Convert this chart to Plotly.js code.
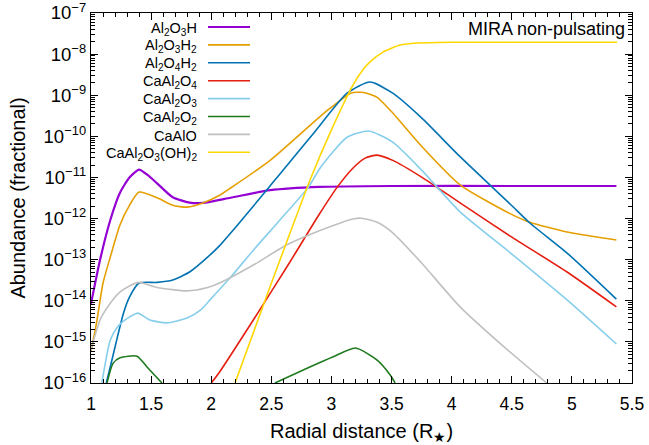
<!DOCTYPE html>
<html>
<head>
<meta charset="utf-8">
<script src="https://cdn.plot.ly/plotly-3.0.1.min.js"></script>
<style>
html,body{margin:0;padding:0;background:#fff;}
#chart{width:649px;height:445px;}
</style>
</head>
<body>
<div id="chart"></div>
<script>
// ---- data (x in R*, y fractional abundance) ----
var al2o3h_x = [1.0, 1.075, 1.16, 1.24, 1.32, 1.40, 1.47, 1.55, 1.68, 1.82, 1.93, 2.16, 2.49, 2.9, 3.5, 4.5, 5.37];
var al2o3h_y = [8.5e-15, 9.8e-14, 9.1e-13, 4.2e-12, 1.0e-11, 1.55e-11, 1.15e-11, 7.2e-12, 3.3e-12, 2.45e-12, 2.4e-12, 3.2e-12, 4.9e-12, 5.9e-12, 6.2e-12, 6.2e-12, 6.2e-12];

var al2o3h2_x = [1.0, 1.05, 1.10, 1.16, 1.24, 1.32, 1.40, 1.55, 1.68, 1.80, 1.93, 2.07, 2.16, 2.49, 2.9, 3.0, 3.16, 3.27, 3.38, 3.51, 3.75, 4.07, 4.49, 4.65, 4.96, 5.37];
var al2o3h2_y = [5.8e-16, 3.4e-15, 2.7e-14, 1.15e-13, 6.9e-13, 2.1e-12, 4.4e-12, 3.2e-12, 2.1e-12, 1.9e-12, 2.4e-12, 3.7e-12, 5.5e-12, 2.6e-11, 2.95e-10, 5.1e-10, 1.12e-9, 1.17e-9, 8.9e-10, 3.7e-10, 5.75e-11, 6.6e-12, 1.3e-12, 8.1e-13, 4.7e-13, 3.0e-13];

var al2o4h2_x = [1.11, 1.16, 1.22, 1.27, 1.32, 1.40, 1.55, 1.68, 1.82, 1.97, 2.07, 2.20, 2.35, 2.46, 2.57, 2.85, 3.13, 3.32, 3.51, 3.75, 4.07, 4.49, 4.65, 4.96, 5.37];
var al2o4h2_y = [6.3e-17, 2.45e-16, 1.32e-15, 5.0e-15, 1.23e-14, 2.7e-14, 2.8e-14, 3.2e-14, 5.0e-14, 1.15e-13, 2.2e-13, 6.0e-13, 2.0e-12, 4.9e-12, 1.2e-11, 1.17e-10, 1.12e-9, 2.1e-9, 1.12e-9, 2.8e-10, 3.2e-11, 2.2e-12, 7.8e-13, 1.45e-13, 1.1e-14];

var caal2o4_x = [2.0, 2.07, 2.35, 2.66, 2.9, 3.05, 3.18, 3.28, 3.38, 3.51, 3.75, 4.07, 4.49, 4.96, 5.37];
var caal2o4_y = [1e-16, 1.86e-16, 3.4e-15, 9.3e-14, 1.29e-12, 5.9e-12, 1.7e-11, 2.95e-11, 3.5e-11, 2.6e-11, 1.02e-11, 2.4e-12, 3.7e-13, 5.0e-14, 7.1e-15];

var caal2o3_x = [1.09, 1.16, 1.22, 1.27, 1.32, 1.39, 1.49, 1.63, 1.80, 1.91, 1.99, 2.07, 2.17, 2.35, 2.57, 2.81, 2.91, 3.13, 3.31, 3.51, 3.75, 4.07, 4.49, 4.96, 5.37];
var caal2o3_y = [1e-16, 1.1e-15, 2.3e-15, 3.2e-15, 4.0e-15, 5.0e-15, 3.4e-15, 2.9e-15, 3.8e-15, 5.9e-15, 1.05e-14, 1.9e-14, 4.0e-14, 1.7e-13, 9.1e-13, 5.9e-12, 1.78e-11, 9.5e-11, 1.35e-10, 7.2e-11, 1.51e-11, 1.45e-12, 1.45e-13, 1.05e-14, 8.9e-16];

var caal2o2_x = [1.133, 1.183, 1.241, 1.383, 1.466, 1.59, null, 2.53, 2.82, 3.01, 3.20, 3.38, 3.49, 3.53];
var caal2o2_y = [1e-16, 3.0e-16, 4.1e-16, 4.5e-16, 2.45e-16, 1e-16, null, 1e-16, 2.45e-16, 4.3e-16, 7.1e-16, 3.6e-16, 1.55e-16, 1e-16];

var caalo_x = [1.0, 1.075, 1.16, 1.24, 1.32, 1.40, 1.55, 1.80, 1.97, 2.07, 2.35, 2.63, 2.91, 3.18, 3.25, 3.38, 3.51, 3.75, 4.07, 4.40, 4.79];
var caalo_y = [6.3e-16, 3.4e-15, 8.7e-15, 1.62e-14, 2.3e-14, 2.8e-14, 2.1e-14, 1.74e-14, 2.1e-14, 2.7e-14, 7.4e-14, 2.3e-13, 5.2e-13, 9.8e-13, 1.02e-12, 8.1e-13, 4.5e-13, 8.3e-14, 7.1e-15, 9.3e-16, 1.0e-16];

var caal2o3oh2_x = [2.198, 2.464, 2.656, 2.822, 2.988, 3.18, 3.263, 3.321, 3.429, 3.571, 3.712, 3.987, 5.376];
var caal2o3oh2_y = [1e-16, 1.38e-14, 4.5e-13, 8.7e-12, 1.2e-10, 1.78e-9, 4.2e-9, 6.5e-9, 1.12e-8, 1.66e-8, 1.86e-8, 1.95e-8, 1.95e-8];

var seriesNames = ['Al<sub>2</sub>O<sub>3</sub>H', 'Al<sub>2</sub>O<sub>3</sub>H<sub>2</sub>', 'Al<sub>2</sub>O<sub>4</sub>H<sub>2</sub>',
  'CaAl<sub>2</sub>O<sub>4</sub>', 'CaAl<sub>2</sub>O<sub>3</sub>', 'CaAl<sub>2</sub>O<sub>2</sub>', 'CaAlO',
  'CaAl<sub>2</sub>O<sub>3</sub>(OH)<sub>2</sub>'];
var xTickVals = [1, 1.5, 2, 2.5, 3, 3.5, 4, 4.5, 5, 5.5];
var xTickText = ['1', '1.5', '2', '2.5', '3', '3.5', '4', '4.5', '5', '5.5'];
var yExponents = [-16, -15, -14, -13, -12, -11, -10, -9, -8, -7];

// ---- styles ----
var colors = ['#9400d3', '#e69f00', '#0072b2', '#e51e10', '#87ceeb', '#1f7a1f', '#c0c0c0', '#ffd700'];
var widths = [2.2, 1.6, 1.6, 1.6, 1.6, 1.6, 1.6, 1.6];
var xs = [al2o3h_x, al2o3h2_x, al2o4h2_x, caal2o4_x, caal2o3_x, caal2o2_x, caalo_x, caal2o3oh2_x];
var ys = [al2o3h_y, al2o3h2_y, al2o4h2_y, caal2o4_y, caal2o3_y, caal2o2_y, caalo_y, caal2o3oh2_y];

var traces = [];
for (var i = 0; i < xs.length; i++) {
  traces.push({
    x: xs[i], y: ys[i], type: 'scatter', mode: 'lines', name: seriesNames[i],
    line: {color: colors[i], width: widths[i], shape: 'spline', smoothing: 0.6},
    showlegend: false, hoverinfo: 'skip'
  });
}

var yTickVals = yExponents.map(function (e) { return Math.pow(10, e); });
var yTickText = yExponents.map(function (e) { return '10<sup>\u2212' + Math.abs(e) + '</sup>'; });
var yMinor = [];
for (var e = -16; e < -7; e++) { for (var m = 2; m <= 9; m++) yMinor.push(m * Math.pow(10, e)); }

var FONT = 'Liberation Sans, Arial, Helvetica, sans-serif';
var L = 91, R = 632, T = 13, B = 383;
function px2paperX(p) { return (p - L) / (R - L); }
function px2paperY(p) { return (B - p) / (B - T); }

var annotations = [{
  text: 'MIRA non-pulsating', xref: 'paper', yref: 'paper',
  x: px2paperX(627), y: px2paperY(29), xanchor: 'right', yanchor: 'middle',
  showarrow: false, font: {family: FONT, size: 18, color: '#000'}
}];
var shapes = [];
for (var k = 0; k < seriesNames.length; k++) {
  var rowY = 27 + k * 17.9;
  annotations.push({
    text: seriesNames[k], xref: 'paper', yref: 'paper',
    x: px2paperX(199), y: px2paperY(rowY + 1.5), xanchor: 'right', yanchor: 'middle',
    showarrow: false, font: {family: FONT, size: 14.5, color: '#000'}
  });
  shapes.push({
    type: 'line', xref: 'paper', yref: 'paper',
    x0: px2paperX(208), x1: px2paperX(250), y0: px2paperY(rowY), y1: px2paperY(rowY),
    line: {color: colors[k], width: widths[k]}
  });
}

var layout = {
  width: 649, height: 445,
  margin: {l: L, r: 649 - R, t: T, b: 445 - B},
  paper_bgcolor: '#fff', plot_bgcolor: '#fff',
  font: {family: FONT, color: '#000'},
  showlegend: false,
  xaxis: {
    range: [1, 5.5], tickmode: 'array', tickvals: xTickVals, ticktext: xTickText,
    ticks: 'inside', ticklen: 7, tickwidth: 1, tickcolor: '#000',
    mirror: 'allticks', showline: true, linecolor: '#000', linewidth: 1.2,
    showgrid: false, zeroline: false, ticklabelstandoff: 5, ticklabeloverflow: 'allow',
    minor: {tickmode: 'linear', tick0: 1, dtick: 0.1, ticks: 'inside', ticklen: 4, tickcolor: '#000', showgrid: false},
    tickfont: {family: FONT, size: 17.5, color: '#000'},
    title: {text: 'Radial distance (R<sub>★</sub>)', font: {family: FONT, size: 20, color: '#000'}, standoff: 10}
  },
  yaxis: {
    type: 'log', range: [-16, -7], tickmode: 'array', tickvals: yTickVals, ticktext: yTickText,
    ticks: 'inside', ticklen: 7, tickwidth: 1, tickcolor: '#000',
    mirror: 'allticks', showline: true, linecolor: '#000', linewidth: 1.2,
    showgrid: false, zeroline: false, ticklabeloverflow: 'allow',
    minor: {tickmode: 'array', tickvals: yMinor, ticks: 'inside', ticklen: 4, tickcolor: '#000', showgrid: false},
    tickfont: {family: FONT, size: 18.5, color: '#000'},
    title: {text: 'Abundance (fractional)', font: {family: FONT, size: 20, color: '#000'}, standoff: 12}
  },
  annotations: annotations,
  shapes: shapes
};

Plotly.newPlot('chart', traces, layout, {staticPlot: true, displayModeBar: false});
</script>
</body>
</html>
